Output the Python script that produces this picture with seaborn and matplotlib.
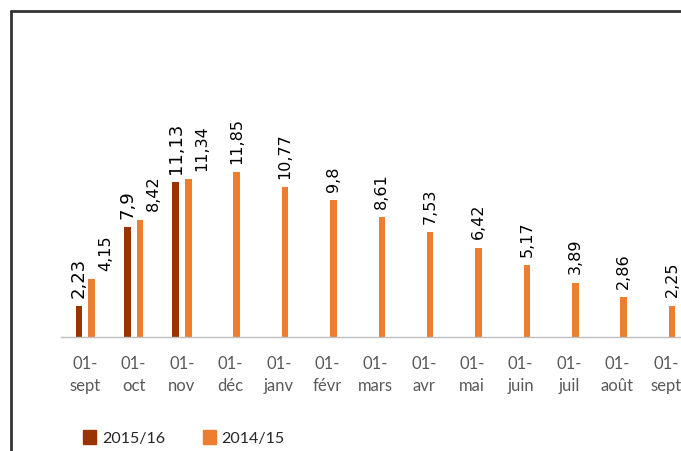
import pandas as pd
import matplotlib.pyplot as plt
import seaborn as sns
from matplotlib.lines import Line2D

# Data
periods = ["2015-09", "2015-10", "2015-11", "2015-12", "2016-01", "2016-02", "2016-03",
           "2016-04", "2016-05", "2016-06", "2016-07", "2016-08", "2016-09"]
tick_labels = ["01-\nsept", "01-\noct", "01-\nnov", "01-\ndéc", "01-\njanv", "01-\nfévr",
               "01-\nmars", "01-\navr", "01-\nmai", "01-\njuin", "01-\njuil", "01-\naoût",
               "01-\nsept"]
values_1516 = [2.23, 7.9, 11.13]
values_1415 = [4.15, 8.42, 11.34, 11.85, 10.77, 9.8, 8.61, 7.53, 6.42, 5.17, 3.89, 2.86, 2.25]
series = ["2015/16", "2014/15"]
colors = {"2015/16": "#993300", "2014/15": "#ED7D31"}

rows = [(p, series[0], v) for p, v in zip(periods, values_1516)]
rows += [(p, series[1], v) for p, v in zip(periods, values_1415)]
df = pd.DataFrame(rows, columns=["period", "season", "value"])

sns.set_style("white")
plt.rcParams["font.family"] = ["DejaVu Sans"]

fig = plt.figure(figsize=(6.81, 4.51), dpi=100)
ax = fig.add_axes([61 / 681, 114 / 451, 629 / 681, 14 * 13.93 / 451])

sns.barplot(data=df, x="period", y="value", hue="season", order=periods,
            hue_order=series, palette=colors, width=0.52, gap=0.48, saturation=1,
            linewidth=0, errorbar=None, ax=ax, legend=False)

ax.set_xlim(-0.5, 12.5)
ax.set_ylim(0, 14)
ax.set_xlabel("")
ax.set_ylabel("")
ax.set_yticks([])
for s in ["left", "right", "top"]:
    ax.spines[s].set_visible(False)
ax.spines["bottom"].set_color("#BFBFBF")
ax.spines["bottom"].set_linewidth(1)

ax.set_xticks(range(len(periods)))
ax.set_xticklabels(tick_labels, fontfamily="Lato", fontsize=12, color="#595959",
                   linespacing=1.45)
ax.tick_params(axis="x", which="major", length=0, pad=14)
ax.set_xticks([i - 0.5 for i in range(len(periods) + 1)], minor=True)
ax.tick_params(axis="x", which="minor", direction="in", length=3.6, color="#BFBFBF",
               width=1)

# data labels
n_brown = len(values_1516)
for cont, name in zip(ax.containers, series):
    for i, bar in enumerate(cont.patches):
        h = bar.get_height()
        if pd.isna(h) or h == 0:
            continue
        x = bar.get_x() + bar.get_width() / 2
        dx = 0
        size = 13 if name == "2015/16" else 11.5
        if name == "2014/15" and i < n_brown:
            dx = 10
        ax.annotate(f"{h:g}".replace(".", ","), (x, h), xytext=(dx, 6),
                    textcoords="offset points", rotation=90, ha="center", va="bottom",
                    fontsize=size, color="black", annotation_clip=False)

# legend
handles = [plt.Rectangle((0, 0), 1, 1, color=colors[s]) for s in series]
fig.legend(handles, series, loc="center", bbox_to_anchor=(184 / 681, 13 / 451), ncol=2,
           frameon=False, prop={"family": "Lato", "size": 11.5}, labelcolor="#262626",
           handlelength=0.8, handleheight=0.9, handletextpad=0.35, columnspacing=2.4)

# outer frame (top and left edges)
fig.add_artist(Line2D([11 / 681, 1.0], [1 - 11 / 451, 1 - 11 / 451], color="#333333",
                      linewidth=2, transform=fig.transFigure))
fig.add_artist(Line2D([11 / 681, 11 / 681], [0, 1 - 11 / 451], color="#333333",
                      linewidth=2, transform=fig.transFigure))

fig.savefig("out.png", dpi=100)
